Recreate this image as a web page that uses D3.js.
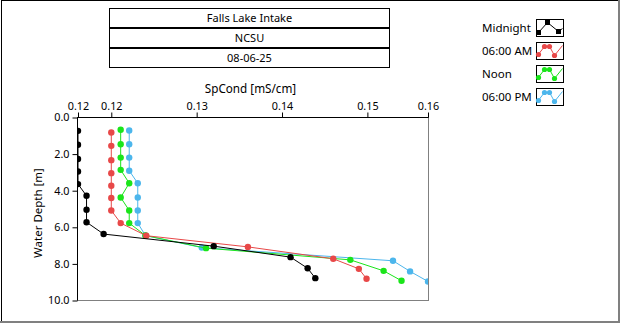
<!DOCTYPE html>
<html>
<head>
<meta charset="utf-8">
<script src="https://cdn.jsdelivr.net/npm/d3@7/dist/d3.min.js"></script>
<style>
  html, body { margin: 0; padding: 0; background: #fff; }
  svg { display: block; font-family: "Noto Sans", "Open Sans", sans-serif; }
</style>
</head>
<body>
<svg id="chart" width="620" height="324"></svg>
<script>
// Header lines
const headerLines = ["Falls Lake Intake", "NCSU", "08-06-25"];

// Profile series: depth [m] and specific conductance [mS/cm]
const seriesNames = ["Midnight", "06:00 AM", "Noon", "06:00 PM"];
const seriesColors = ["#000000", "#e84848", "#1ae51a", "#4cb6ec"];

const depthMidnight = [0.73, 1.49, 2.27, 2.95, 3.64, 4.28, 5.04, 5.72, 6.37, 7.03, 7.63, 8.24, 8.78];
const spMidnight    = [0.1161, 0.1161, 0.1161, 0.1161, 0.1161, 0.1171, 0.1171, 0.1171, 0.1191, 0.1320, 0.1410, 0.1430, 0.1439];

const depth0600AM   = [0.82, 1.55, 2.33, 3.04, 3.73, 4.40, 5.08, 5.77, 6.46, 7.07, 7.72, 8.27, 8.81];
const sp0600AM      = [0.1200, 0.1200, 0.1200, 0.1200, 0.1200, 0.1200, 0.1200, 0.1211, 0.1241, 0.1360, 0.1460, 0.1490, 0.1499];

const depthNoon     = [0.67, 1.46, 2.19, 2.86, 3.59, 4.37, 5.08, 5.77, 6.45, 7.14, 7.78, 8.38, 8.92];
const spNoon        = [0.1211, 0.1211, 0.1211, 0.1211, 0.1221, 0.1211, 0.1221, 0.1221, 0.1240, 0.1311, 0.1480, 0.1519, 0.1540];

const depth0600PM   = [0.71, 1.46, 2.19, 2.91, 3.59, 4.37, 5.08, 5.77, 6.45, 7.11, 7.83, 8.41, 8.96];
const sp0600PM      = [0.1221, 0.1221, 0.1221, 0.1221, 0.1231, 0.1231, 0.1231, 0.1231, 0.1240, 0.1306, 0.1530, 0.1550, 0.1571];

// Axis ticks
const xTickValues = [0.1161, 0.12, 0.13, 0.14, 0.15, 0.1571];
const yTickValues = [0, 2, 4, 6, 8, 10];
const xTitle = "SpCond [mS/cm]";
const yTitle = "Water Depth [m]";

const depths = [depthMidnight, depth0600AM, depthNoon, depth0600PM];
const values = [spMidnight, sp0600AM, spNoon, sp0600PM];
const series = seriesNames.map((name, i) => ({
  name,
  color: seriesColors[i],
  points: depths[i].map((d, j) => ({ depth: d, sp: values[i][j] }))
}));

const svg = d3.select("#chart");

// Panel frame: dark top/left edge, grey bottom/right edge
svg.append("rect").attr("x", 0).attr("y", 0).attr("width", 620).attr("height", 324).attr("fill", "#fff");
svg.append("line").attr("x1", 1).attr("x2", 618).attr("y1", 0.5).attr("y2", 0.5).attr("stroke", "#000");
svg.append("line").attr("x1", 1.5).attr("x2", 1.5).attr("y1", 0).attr("y2", 321).attr("stroke", "#000");
svg.append("rect").attr("x", 618).attr("y", 0).attr("width", 2).attr("height", 323).attr("fill", "#808080");
svg.append("rect").attr("x", 0).attr("y", 321).attr("width", 620).attr("height", 2).attr("fill", "#808080");

// Header boxes
const header = svg.append("g");
headerLines.forEach((t, i) => {
  const y0 = 8.5 + i * 20;
  header.append("rect")
    .attr("x", 109.5).attr("y", y0).attr("width", 280).attr("height", 19)
    .attr("fill", "#fff").attr("stroke", "#000");
  header.append("text")
    .attr("x", 249.5).attr("y", y0 + 13.6)
    .attr("text-anchor", "middle")
    .attr("font-size", 11).attr("fill", "#000")
    .text(t);
});

// Scales
const plot = { left: 78, right: 428, top: 117.5, bottom: 300.5 };
const x = d3.scaleLinear().domain([xTickValues[0], xTickValues[xTickValues.length - 1]]).range([plot.left, plot.right]);
const y = d3.scaleLinear().domain([0, 10]).range([plot.top, plot.bottom]);

// Plot frame: grey right/bottom edges
svg.append("line").attr("x1", 428.5).attr("x2", 428.5).attr("y1", 117).attr("y2", 301).attr("stroke", "#808080");
svg.append("line").attr("x1", 77).attr("x2", 429).attr("y1", 300.5).attr("y2", 300.5).attr("stroke", "#808080");

// Axes
const xAxis = svg.append("g")
  .attr("transform", "translate(0,117.5)")
  .call(d3.axisTop(x).tickValues(xTickValues).tickFormat(d3.format(".2f")).tickSize(5).tickSizeOuter(0));
const yAxis = svg.append("g")
  .attr("transform", "translate(77.5,0)")
  .call(d3.axisLeft(y).tickValues(yTickValues).tickFormat(d3.format(".1f")).tickSize(5).tickSizeOuter(0));

[xAxis, yAxis].forEach(g => {
  g.selectAll("text").attr("font-size", 10.8).attr("fill", "#000").attr("font-family", "Noto Sans, sans-serif");
  g.selectAll("line").attr("stroke", "#000");
  g.select(".domain").attr("stroke", "#000");
});
xAxis.select(".domain").attr("d", `M${plot.left - 0.5},0H${plot.right + 0.5}`);
yAxis.select(".domain").attr("d", `M0,${plot.top - 0.5}V${plot.bottom}`);

// Axis titles
svg.append("text")
  .attr("x", 250.5).attr("y", 93)
  .attr("text-anchor", "middle")
  .attr("font-size", 11.7).attr("fill", "#000")
  .text(xTitle);
svg.append("text")
  .attr("transform", "translate(41.5,213) rotate(-90)")
  .attr("text-anchor", "middle")
  .attr("font-size", 11.5).attr("fill", "#000")
  .text(yTitle);

// Data area, clipped to the plot interior
svg.append("clipPath").attr("id", "plotClip")
  .append("rect").attr("x", plot.left).attr("y", plot.top + 0.5)
  .attr("width", plot.right - plot.left).attr("height", plot.bottom - plot.top - 1);

const dataG = svg.append("g").attr("clip-path", "url(#plotClip)");
const line = d3.line().x(d => x(d.sp)).y(d => y(d.depth));

// Later series first so Midnight sits on top
series.slice().reverse().forEach(s => {
  const g = dataG.append("g");
  g.append("path")
    .attr("d", line(s.points))
    .attr("fill", "none")
    .attr("stroke", s.color)
    .attr("stroke-width", 1);
  g.selectAll("circle").data(s.points).join("circle")
    .attr("cx", d => x(d.sp)).attr("cy", d => y(d.depth))
    .attr("r", 3.2).attr("fill", s.color);
});

// Legend
const legend = svg.append("g");
const iconLine = [[1, 13], [8, 4], [13, 4], [18, 13], [26, 3]];
const iconDots = [[2, 12], [8, 4], [13, 4], [18, 13]];
const iconLineMid = [[2, 13], [11, 3], [22, 12], [26, 9]];
const iconDotsMid = [[2, 13], [11, 3], [22, 12]];
series.forEach((s, i) => {
  const by = 19.5 + i * 23;
  legend.append("text")
    .attr("x", 482).attr("y", by + 12.5)
    .attr("font-size", 11.5).attr("fill", "#000")
    .text(s.name);
  const bx = 536.5;
  legend.append("rect").attr("x", bx).attr("y", by).attr("width", 27).attr("height", 17)
    .attr("fill", "#fff").attr("stroke", "#000");
  const pts = i === 0 ? iconLineMid : iconLine;
  const dots = i === 0 ? iconDotsMid : iconDots;
  legend.append("path")
    .attr("d", d3.line()(pts.map(p => [bx + p[0], by + p[1]])))
    .attr("fill", "none").attr("stroke", s.color).attr("stroke-width", 1);
  if (i === 0) {
    legend.selectAll(null).data(dots).join("rect")
      .attr("x", p => bx + p[0] - 2.5).attr("y", p => by + p[1] - 2.5)
      .attr("width", 5).attr("height", 5).attr("fill", s.color);
  } else {
    legend.selectAll(null).data(dots).join("circle")
      .attr("cx", p => bx + p[0]).attr("cy", p => by + p[1])
      .attr("r", 2.6).attr("fill", s.color);
  }
});
</script>
</body>
</html>
